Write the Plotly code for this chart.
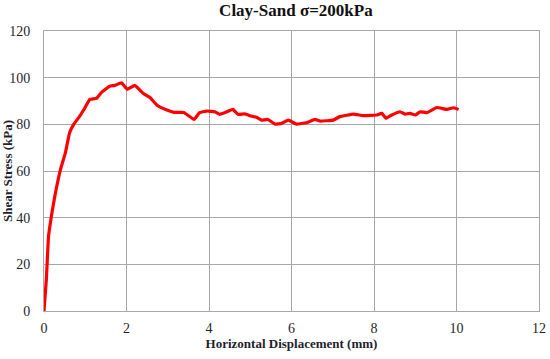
import plotly.graph_objects as go

displacement_mm = [0, 0.057, 0.11, 0.18, 0.26, 0.4, 0.52, 0.62, 0.72, 0.87, 0.99, 1.11, 1.27, 1.39,
                   1.59, 1.72, 1.88, 2.02, 2.2, 2.41, 2.57, 2.74, 2.98, 3.15, 3.39, 3.64, 3.77, 3.94,
                   4.14, 4.26, 4.38, 4.58, 4.7, 4.87, 4.99, 5.15, 5.27, 5.43, 5.6, 5.76, 5.92, 6.12,
                   6.36, 6.57, 6.69, 7.01, 7.17, 7.5, 7.74, 8.06, 8.19, 8.29, 8.43, 8.63, 8.75, 8.87,
                   9.0, 9.12, 9.28, 9.52, 9.77, 9.93, 10.05]
shear_kpa = [0, 13.6, 32, 40.7, 49, 60.7, 67.9, 76.4, 80, 83.6, 87, 90.7, 91.1, 93.6,
             96.3, 96.7, 97.8, 95, 96.7, 93.2, 91.5, 88.2, 86.1, 85.1, 85.1, 82.1, 85, 85.7,
             85.4, 84.3, 85, 86.4, 84.3, 84.5, 83.7, 83, 81.8, 82.1, 80.1, 80.4, 81.8, 80.1,
             80.7, 82.1, 81.4, 81.8, 83.3, 84.4, 83.7, 84, 84.7, 82.6, 84, 85.4, 84.4, 84.7,
             84, 85.4, 85, 87.2, 86.4, 87.1, 86.4]

x_ticks = [0, 2, 4, 6, 8, 10, 12]
y_ticks = [0, 20, 40, 60, 80, 100, 120]

font_family = "Liberation Serif, Times New Roman, serif"

fig = go.Figure()
fig.add_trace(go.Scatter(x=displacement_mm, y=shear_kpa, mode="lines",
                         line=dict(color="#ff0000", width=3.2, shape="spline", smoothing=0.3),
                         showlegend=False))

fig.update_layout(
    width=550, height=359,
    margin=dict(l=43.5, r=10.5, t=31, b=47.5, autoexpand=False),
    paper_bgcolor="white", plot_bgcolor="white",
    font=dict(family=font_family, color="#1f1f2e", size=14),
    title=dict(text="<b>Clay-Sand σ=200kPa</b>", x=0.538, xanchor="center",
               y=0.971, yanchor="middle", font=dict(size=17, family=font_family, color="#111111")),
)
fig.update_xaxes(range=[0, 12], tickvals=x_ticks, showgrid=True, gridcolor="#a6a6a6", gridwidth=1,
                 showline=True, linecolor="#a6a6a6", linewidth=1, mirror=True, zeroline=False,
                 ticks="", tickfont=dict(size=14), automargin=False, ticklabelstandoff=4,
                 title=dict(text="<b>Horizontal Displacement (mm)</b>", font=dict(size=13), standoff=3))
fig.update_yaxes(range=[0, 120], tickvals=y_ticks, showgrid=True, gridcolor="#a6a6a6", gridwidth=1,
                 showline=True, linecolor="#a6a6a6", linewidth=1, mirror=True, zeroline=False,
                 ticks="", tickfont=dict(size=14), ticklabelstandoff=10, automargin=False,
                 title=dict(text="<b>Shear Stress (kPa)</b>", font=dict(size=13), standoff=0))

# remove the default 8px page margin so the figure fills the window exactly
fig.write_html("out.html", config={"displayModeBar": False},
               post_script="document.body.style.margin='0';")
